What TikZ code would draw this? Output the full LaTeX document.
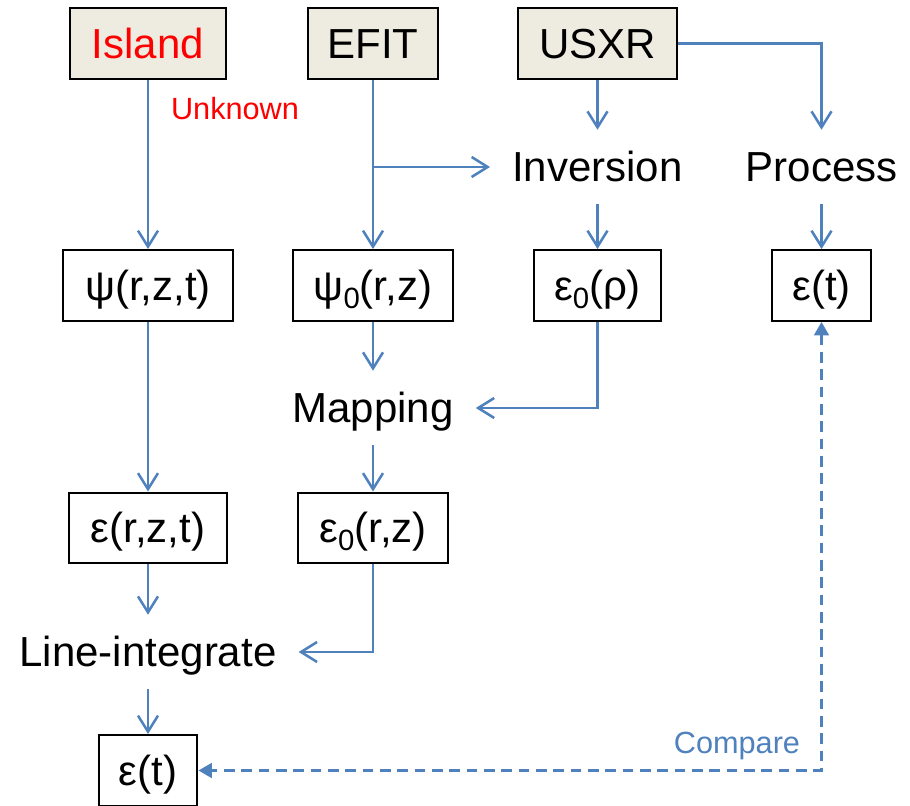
\documentclass[tikz,border=0pt]{standalone}
\usepackage{fontspec}
\setmainfont{Liberation Sans}
\usetikzlibrary{arrows.meta}
\usepackage{xcolor}
\definecolor{flowblue}{HTML}{4F81BD}
\definecolor{srcbeige}{HTML}{EEECE1}
\newcommand{\subzero}{\raisebox{-0.35ex}{\fontsize{22}{24}\selectfont 0}}

\begin{document}
\begin{tikzpicture}[x=0.75pt,y=-0.75pt,line cap=butt,
    every node/.style={font=\fontsize{31.5}{36}\selectfont, text height=26.8pt, text depth=4.7pt},
    srcbox/.style={draw=black, line width=1.7pt, fill=srcbeige, inner sep=0pt, minimum height=53pt},
    qbox/.style={draw=black, line width=1.7pt, fill=white, inner sep=0pt, minimum height=53pt},
    steplabel/.style={inner xsep=16.5pt, inner ysep=12pt},
    note/.style={font=\fontsize{23}{26}\selectfont, text height=19.6pt, text depth=3.4pt, inner sep=0pt},
    flow/.style={flowblue, line width=1.9pt, -{Straight Barb[length=12pt,width=15pt]}},
    cmp/.style={flowblue, line width=1.9pt, dash pattern=on 8pt off 5pt,
        {Triangle[length=10pt,width=11pt]}-{Triangle[length=10pt,width=11pt]}}]
    \useasboundingbox (0,0) rectangle (910,806);

    % sources
    \node[srcbox, minimum width=117pt, text=red] (island) at (148,43.5) {Island};
    \node[srcbox, minimum width=98pt] (efit) at (373,43.5) {EFIT};
    \node[srcbox, minimum width=119pt] (usxr) at (597.5,43.5) {USXR};
    \node[note, text=red] (unknown) at (235,109) {Unknown};

    % processing steps
    \node[steplabel] (inversion) at (597.5,167) {Inversion};
    \node[steplabel] (process) at (821.5,167) {Process};
    \node[steplabel] (mapping) at (373,408) {Mapping};
    \node[steplabel] (lineint) at (148,652) {Line-integrate};

    % quantities
    \node[qbox, minimum width=127pt] (psi) at (148,285.5) {ψ(r,z,t)};
    \node[qbox, minimum width=120pt] (psizero) at (373,285.5) {ψ\subzero(r,z)};
    \node[qbox, minimum width=95pt] (epsrho) at (597.5,285.5) {ε\subzero(ρ)};
    \node[qbox, minimum width=74pt] (epsmeas) at (821.5,285.5) {ε(t)};
    \node[qbox, minimum width=118.5pt] (epsrzt) at (148,528) {ε(r,z,t)};
    \node[qbox, minimum width=112pt] (epszero) at (373,528) {ε\subzero(r,z)};
    \node[qbox, minimum width=74pt] (epssynth) at (148,770.5) {ε(t)};

    % connectors
    \draw[flow] (island) -- (psi);
    \draw[flow] (efit) -- (psizero);
    \draw[flow] (efit.south |- inversion.west) -- (inversion.west);
    \draw[flow] (usxr) -- (inversion);
    \draw[flow] (usxr.east) -| (process.north);
    \draw[flow] (inversion) -- (epsrho);
    \draw[flow] (process) -- (epsmeas);
    \draw[flow] (psizero) -- (mapping);
    \draw[flow] (epsrho.south) |- (mapping.east);
    \draw[flow] (mapping) -- (epszero);
    \draw[flow] (psi) -- (epsrzt);
    \draw[flow] (epsrzt) -- (lineint);
    \draw[flow] (epszero.south) |- (lineint.east);
    \draw[flow] (lineint) -- (epssynth);

    % comparison
    \draw[cmp] (epsmeas.south) |- (epssynth.east);
    \node[note, text=flowblue] (compare) at (737,743) {Compare};
\end{tikzpicture}
\end{document}
